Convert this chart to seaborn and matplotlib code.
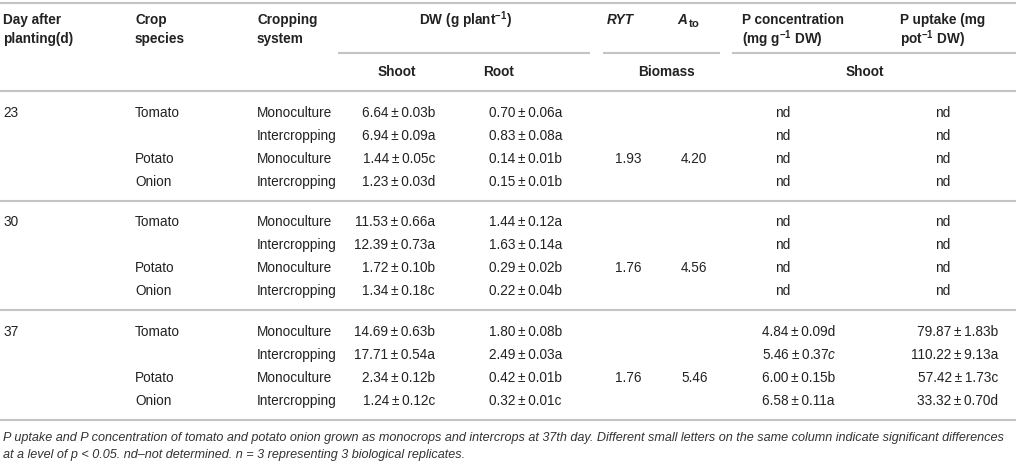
import matplotlib
matplotlib.use('Agg')
import matplotlib.pyplot as plt
import seaborn as sns

# Table data
days = ['23', '30', '37']
species = ['Tomato', '', 'Potato', 'Onion']
systems = ['Monoculture', 'Intercropping', 'Monoculture', 'Intercropping']
shoot = [['6.64±0.03b', '6.94±0.09a', '1.44±0.05c', '1.23±0.03d'],
         ['11.53±0.66a', '12.39±0.73a', '1.72±0.10b', '1.34±0.18c'],
         ['14.69±0.63b', '17.71±0.54a', '2.34±0.12b', '1.24±0.12c']]
root = [['0.70±0.06a', '0.83±0.08a', '0.14±0.01b', '0.15±0.01b'],
        ['1.44±0.12a', '1.63±0.14a', '0.29±0.02b', '0.22±0.04b'],
        ['1.80±0.08b', '2.49±0.03a', '0.42±0.01b', '0.32±0.01c']]
ryt = ['1.93', '1.76', '1.76']
ato = ['4.20', '4.56', '5.46']
p_conc = [['nd', 'nd', 'nd', 'nd'],
          ['nd', 'nd', 'nd', 'nd'],
          ['4.84±0.09d', '5.46±0.37$\\mathit{c}$', '6.00±0.15b', '6.58±0.11a']]
p_uptake = [['nd', 'nd', 'nd', 'nd'],
            ['nd', 'nd', 'nd', 'nd'],
            ['79.87±1.83b', '110.22±9.13a', '57.42±1.73c', '33.32±0.70d']]
caption = ['P uptake and P concentration of tomato and potato onion grown as monocrops and intercrops at 37th day. '
           'Different small letters on the same column indicate significant differences',
           'at a level of p < 0.05. nd–not determined. n = 3 representing 3 biological replicates.']

sns.set_theme(style='white')
plt.rcParams['font.family'] = ['Liberation Sans', 'DejaVu Sans']
plt.rcParams['mathtext.fontset'] = 'custom'
plt.rcParams['mathtext.rm'] = 'Liberation Sans'
plt.rcParams['mathtext.it'] = 'Liberation Sans:italic'
plt.rcParams['mathtext.bf'] = 'Liberation Sans:bold'

TXT = '#222222'
LINE = '#c4c4c4'
FS = 9.8

fig = plt.figure(figsize=(10.16, 4.61), dpi=100)
ax = fig.add_axes([0, 0, 1, 1])
ax.set_xlim(0, 1016)
ax.set_ylim(461, 0)
ax.axis('off')


def pm(s):
    return s.replace('±', '\u2009±\u2009')


def head(x, y, s, ha='left', **kw):
    ax.text(x, y, s, ha=ha, va='center', fontsize=FS, fontweight='bold', color=TXT, **kw)


# header
head(3, 20, 'Day after')
head(3, 39, 'planting(d)')
head(135, 20, 'Crop')
head(135, 39, 'species')
head(257, 20, 'Cropping')
head(257, 39, 'system')
head(465, 20, r'DW (g plant$^{\mathbf{-1}}$)', ha='center')
head(607, 20, 'RYT', fontstyle='italic')
head(677, 20, 'A', fontstyle='italic')
ax.text(688.5, 24, 'to', ha='left', va='center', fontsize=8.2, fontweight='bold', color=TXT)
head(742, 20, 'P concentration')
head(742, 39, r'(mg g$^{\mathbf{-1}}$ DW)')
head(900, 20, 'P uptake (mg')
head(900, 39, r'pot$^{\mathbf{-1}}$ DW)')
head(397, 72, 'Shoot', ha='center')
head(483, 72, 'Root')
head(666, 72, 'Biomass', ha='center')
head(865, 72, 'Shoot', ha='center')

# rules
ax.hlines(3, 0, 1016, color=LINE, lw=1.5)
ax.hlines(53, 338, 590, color=LINE, lw=1.5)
ax.hlines(53, 603, 720, color=LINE, lw=1.5)
ax.hlines(53, 732, 1016, color=LINE, lw=1.5)
group_lines = [91, 200.5, 310, 419.5]
ax.hlines(group_lines, 0, 1016, color=LINE, lw=1.5)


def cell(x, y, s, ha='left'):
    ax.text(x, y, s, ha=ha, va='center', fontsize=FS, color=TXT)


for g, day in enumerate(days):
    y0 = group_lines[g] + 21.5
    cell(3, y0, day)
    for i in range(4):
        y = y0 + 23 * i
        cell(135, y, species[i])
        cell(257, y, systems[i])
        cell(435, y, pm(shoot[g][i]), ha='right')
        cell(489, y, pm(root[g][i]))
        if p_conc[g][i] == 'nd':
            cell(783, y, 'nd', ha='center')
        else:
            cell(762, y, pm(p_conc[g][i]))
        if p_uptake[g][i] == 'nd':
            cell(943, y, 'nd', ha='center')
        else:
            cell(998, y, pm(p_uptake[g][i]), ha='right')
    cell(615, y0 + 46, ryt[g])
    cell(681, y0 + 46, ato[g])

# footnote
ax.text(3, 438, caption[0], ha='left', va='center', fontsize=9.1, fontstyle='italic', color='#333333')
ax.text(3, 455, caption[1], ha='left', va='center', fontsize=9.1, fontstyle='italic', color='#333333')

fig.savefig('out.png', dpi=100)
